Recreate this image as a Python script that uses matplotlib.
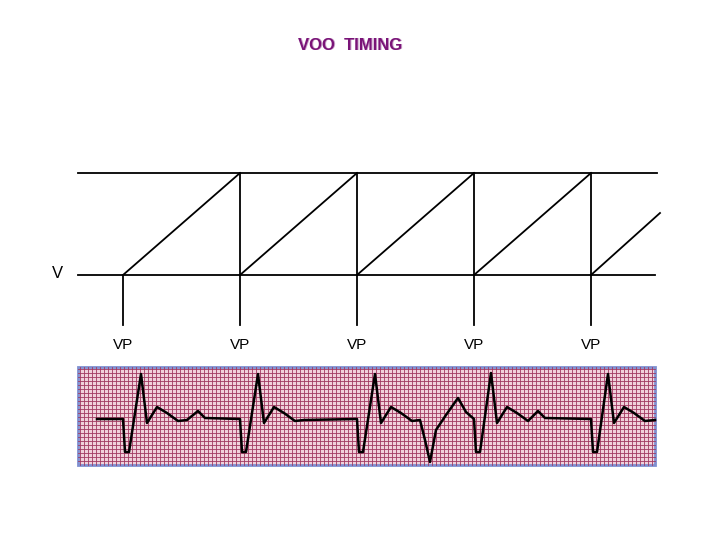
import matplotlib.pyplot as plt
import numpy as np

pace_x = [123, 240, 357, 474, 591]
pace_labels = ['VP', 'VP', 'VP', 'VP', 'VP']
ramp_start = [123, 240, 357, 474, 591]
ramp_end = [240, 357, 474, 591, 660]
ramp_end_y = [173, 173, 173, 173, 213]

ecg_x = [97, 123, 125, 129, 141, 147, 157, 167, 178, 187, 198, 205, 240,
         242, 246, 258, 264, 274, 284, 295, 304, 357,
         359, 363, 375, 381, 391, 401, 412, 420, 425, 430, 436, 446, 458, 466, 474,
         476, 480, 491, 497, 507, 517, 528, 538, 545, 591,
         593, 597, 608, 614, 624, 634, 645, 655]
ecg_y = [419, 419, 452, 452, 374, 423, 407, 413, 421, 420, 411, 418, 419,
         452, 452, 374, 423, 407, 413, 421, 420, 419,
         452, 452, 374, 423, 407, 413, 421, 420, 440, 462, 430, 415, 398, 412, 419,
         452, 452, 373, 423, 407, 413, 421, 411, 418, 419,
         452, 452, 374, 423, 407, 413, 421, 420]

fig = plt.figure(figsize=(7.2, 5.4), dpi=100)
ax = fig.add_axes([0, 0, 1, 1])
ax.set_xlim(0, 720)
ax.set_ylim(540, 0)
ax.axis('off')

# title with a slight shadow
ax.text(351, 46, 'VOO  TIMING', color='#c8a0c8', fontsize=12, ha='center', va='center',
        family='Liberation Sans', fontweight='bold')
ax.text(350, 45, 'VOO  TIMING', color='#7a1478', fontsize=12, ha='center', va='center',
        family='Liberation Sans', fontweight='bold')
ax.text(57, 273, 'V', fontsize=12, ha='center', va='center', family='Liberation Sans')

# timing lines
ax.plot([78, 657], [173, 173], color='black', lw=1.3)
ax.plot([78, 655], [275, 275], color='black', lw=1.3)
for xs, xe, ye in zip(ramp_start, ramp_end, ramp_end_y):
    ax.plot([xs, xe], [275, ye], color='black', lw=1.3)
for x, lab in zip(pace_x, pace_labels):
    ax.plot([x, x], [275, 325], color='black', lw=1.3)
    ax.text(x, 345, lab, fontsize=11, ha='center', va='center', family='Liberation Sans')
for x in pace_x[1:]:
    ax.plot([x, x], [173, 275], color='black', lw=1.3)

# ecg strip
ax.add_patch(plt.Rectangle((78, 367), 577, 98, facecolor='#f0d0da', edgecolor='none'))
for gx in np.arange(80, 655, 4):
    ax.plot([gx, gx], [367, 465], color='#a03860', lw=0.6)
for gy in np.arange(369, 465, 4):
    ax.plot([78, 655], [gy, gy], color='#a03860', lw=0.6)
ax.add_patch(plt.Rectangle((78, 367), 577, 98, facecolor='none', edgecolor='#7f8fd0', lw=2))
ax.plot(ecg_x, ecg_y, color='black', lw=1.8)

fig.savefig('out.png')
